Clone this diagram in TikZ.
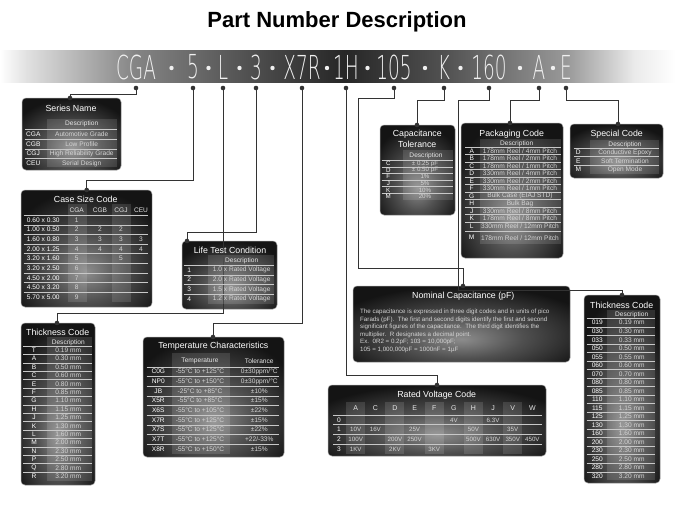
\documentclass[tikz,border=0pt]{standalone}
\usepackage{fontspec}
\usepackage{graphicx}
\setmainfont{Liberation Sans}
\newfontfamily\thinfont{DejaVu Sans ExtraLight}
\definecolor{pcenter}{HTML}{8C8C8C}
\definecolor{pmid}{HTML}{505050}
\definecolor{pedge}{HTML}{141414}
\definecolor{celltxt}{HTML}{D4D4D4}
\definecolor{linecol}{HTML}{C8C8C8}
\definecolor{conncol}{HTML}{333333}
\pgfdeclareradialshading{panelshade}{\pgfpoint{0bp}{-10bp}}{color(0bp)=(pcenter); color(14bp)=(pmid); color(32bp)=(pedge); color(100bp)=(pedge)}
\pgfdeclarehorizontalshading{bannershade}{100bp}{color(0bp)=(white); color(25bp)=(white); color(27bp)=(black!12); color(35bp)=(black!48); color(44bp)=(black!70); color(50.5bp)=(black!85); color(58bp)=(black!68); color(67bp)=(black!40); color(72bp)=(black!8); color(75bp)=(white); color(100bp)=(white)}
\begin{document}
\begin{tikzpicture}[x=1pt,y=-1pt,
  panel/.style={draw=black!40, line width=0.5pt, rounded corners=4pt, shading=panelshade, inner sep=0pt, outer sep=0pt},
  ttl/.style={text=white, font=\fontsize{8.8}{10}\selectfont, inner sep=0pt},
  hdr/.style={text=white!90!black, font=\fontsize{6.6}{7}\selectfont, inner sep=0pt},
  cell/.style={text=celltxt, font=\fontsize{6.6}{7}\selectfont, inner sep=0pt},
  smallcell/.style={text=celltxt, font=\fontsize{6.2}{7}\selectfont, inner sep=0pt},
  code/.style={text=white, font=\fontsize{6.6}{7}\selectfont, inner sep=0pt},
  sepl/.style={draw=linecol, line width=0.6pt},
  band/.style={fill=white, fill opacity=0.12},
  conn/.style={draw=conncol, line width=0.8pt},
  dotc/.style={fill=conncol},
  tok/.style={text=white!94!black, font=\thinfont\fontsize{33}{33}\selectfont, inner sep=0pt},
  bodytxt/.style={text=celltxt, font=\fontsize{6.2}{7.4}\selectfont, inner sep=0pt, anchor=west}]
\useasboundingbox (0,0) rectangle (675,506);
\fill[white] (0,0) rectangle (675,506);
% title
\node[font=\fontsize{22}{24}\selectfont\bfseries] (title) at (337,22) {Part Number Description};
% banner
\shade[shading=bannershade] (0,50) rectangle (675,82);
\foreach \t/\x/\n in {CGA/136/cga,5/193/five,L/223/ell,3/256/three,X7R/302/xsr,1H/346/oneh,105/394/ohf,K/444/kk,160/489/osz,A/539/aa,E/566/ee}{
  \node[tok] (t-\n) at (\x,67) {\scalebox{0.56}[1]{\t}};
  \coordinate (d-\n) at (\x,88);
}
\foreach \x in {171.5,208.5,239.5,272.5,327,367.5,425,460.5,520,553}{
  \fill[white!94!black] (\x,68) circle (2.2pt);
}
% ---------- panels ----------
\node[panel, minimum width=99pt, minimum height=72pt] (sn) at (71.5,134) {};
\node[panel, minimum width=131pt, minimum height=117pt] (cs) at (86.5,248.5) {};
\node[panel, minimum width=74pt, minimum height=162pt] (tl) at (58,404) {};
\node[panel, minimum width=95pt, minimum height=68pt] (lt) at (229.5,275) {};
\node[panel, minimum width=141pt, minimum height=120pt] (tc) at (213.5,397) {};
\node[panel, minimum width=75pt, minimum height=90pt] (ct) at (417.5,170) {};
\node[panel, minimum width=102pt, minimum height=135pt] (pk) at (512,190.5) {};
\node[panel, minimum width=93pt, minimum height=54pt] (sp) at (616.5,151) {};
\node[panel, minimum width=217pt, minimum height=76pt] (nc) at (461.5,324) {};
\node[panel, minimum width=218pt, minimum height=71pt] (rv) at (437,420.5) {};
\node[panel, minimum width=76pt, minimum height=188pt] (tr) at (622,389) {};
% connector end points
\coordinate (sn-in) at (70,98);
\coordinate (cs-in) at (86.7,190);
\coordinate (tl-in) at (57,323);
\coordinate (lt-in) at (187,241);
\coordinate (tc-in) at (213,337);
\coordinate (ct-in) at (417,125);
\coordinate (pk-in) at (510,123);
\coordinate (sp-in) at (618,124);
\coordinate (nc-in) at (463,286);
\coordinate (rv-in) at (437,385);
\coordinate (tr-in) at (622,295);
\coordinate (k105) at (358,268);
\coordinate (k160) at (458,290);
% connectors
\draw[conn] (d-cga) -- ++(0,6) -| (sn-in);
\draw[conn] (d-five) -- ++(0,92) -| (cs-in);
\draw[conn] (d-ell) -- ++(0,225) -| (tl-in);
\draw[conn] (d-three) -- ++(0,144) -| (lt-in);
\draw[conn] (d-xsr) -- ++(0,235) -| (tc-in);
\draw[conn] (d-oneh) -- ++(0,287) -| (rv-in);
\draw[conn] (d-ohf) -- ++(0,10) -| (k105) -| (nc-in);
\draw[conn] (d-kk) -- ++(0,12) -| (ct-in);
\draw[conn] (d-osz) -- ++(0,12) -| (k160) -| (tr-in);
\draw[conn] (d-aa) -- ++(0,12) -| (pk-in);
\draw[conn] (d-ee) -- ++(0,12) -| (sp-in);
\foreach \p in {d-cga,d-five,d-ell,d-three,d-xsr,d-oneh,d-ohf,d-kk,d-osz,d-aa,d-ee,sn-in,cs-in,tl-in,lt-in,tc-in,ct-in,pk-in,sp-in,nc-in,rv-in,tr-in}{
  \fill[dotc] (\p) circle (2.3pt);
}
% ---------- Series Name ----------
\fill[band] (47,119) rectangle (117,167);
\node[ttl] (sn-t) at (71,108.5) {Series Name};
\node[hdr] (sn-h) at (81.7,124) {Description};
\foreach \c/\d [count=\i] in {CGA/Automotive Grade,CGB/Low Profile,CGJ/High Reliability Grade,CEU/Serial Design}{
  \pgfmathsetmacro\yy{134.3+9.67*(\i-1)}
  \draw[sepl] (25,{\yy-4.8}) -- (117,{\yy-4.8});
  \node[code] (sn-c\i) at (33.3,\yy) {\c};
  \node[cell] (sn-d\i) at (81.7,\yy) {\d};
}
% ---------- Case Size Code ----------
\fill[band] (67.7,204) rectangle (86.7,302);
\fill[band] (111.7,204) rectangle (130.7,302);
\node[ttl] (cs-t) at (85.7,199.5) {Case Size Code};
\node[hdr] (cs-h1) at (76.7,210) {CGA};
\node[hdr] (cs-h2) at (100,210) {CGB};
\node[hdr] (cs-h3) at (121,210) {CGJ};
\node[hdr] (cs-h4) at (141,210) {CEU};
\foreach \s [count=\i] in {0.60 x 0.30,1.00 x 0.50,1.60 x 0.80,2.00 x 1.25,3.20 x 1.60,3.20 x 2.50,4.50 x 2.00,4.50 x 3.20,5.70 x 5.00}{
  \pgfmathsetmacro\yy{220+9.63*(\i-1)}
  \draw[sepl] (23.5,{\yy-4.8}) -- (148,{\yy-4.8});
  \node[code] (cs-s\i) at (43.3,\yy) {\s};
  \node[cell] (cs-a\i) at (76.7,\yy) {\i};
}
\foreach \r in {2,3,4}{
  \node[cell] (cs-b\r) at (100,{220+9.63*(\r-1)}) {\r};
}
\foreach \r in {2,3,4,5}{
  \node[cell] (cs-j\r) at (121,{220+9.63*(\r-1)}) {\r};
}
\foreach \r in {3,4}{
  \node[cell] (cs-u\r) at (141,{220+9.63*(\r-1)}) {\r};
}
% ---------- Thickness Code (left) ----------
\fill[band] (46.7,337) rectangle (92,481);
\node[ttl] (tl-t) at (57.7,332) {Thickness Code};
\node[hdr] (tl-h) at (68.3,342.3) {Description};
\foreach \c/\v [count=\i] in {T/0.19,A/0.30,B/0.50,C/0.60,E/0.80,F/0.85,G/1.10,H/1.15,J/1.25,K/1.30,L/1.60,M/2.00,N/2.30,P/2.50,Q/2.80,R/3.20}{
  \pgfmathsetmacro\yy{350.3+8.4*(\i-1)}
  \draw[sepl] (23,{\yy-4.2}) -- (92,{\yy-4.2});
  \node[code] (tl-c\i) at (34,\yy) {\c};
  \node[cell] (tl-v\i) at (68.3,\yy) {\v\ mm};
}
% ---------- Life Test Condition ----------
\fill[band] (208,255) rectangle (273.5,304);
\node[ttl] (lt-t) at (230,250) {Life Test Condition};
\node[hdr] (lt-h) at (241.7,260.7) {Description};
\foreach \d [count=\i] in {1.0,2.0,1.5,1.2}{
  \pgfmathsetmacro\yy{270+9.67*(\i-1)}
  \draw[sepl] (183.5,{\yy-4.8}) -- (273.5,{\yy-4.8});
  \node[code] (lt-c\i) at (189.3,\yy) {\i};
  \node[cell] (lt-d\i) at (241.7,\yy) {\d\ x Rated Voltage};
}
% ---------- Temperature Characteristics ----------
\fill[band] (171.7,353) rectangle (230,454);
\node[ttl] (tc-t) at (213.3,346.5) {Temperature Characteristics};
\node[hdr] (tc-h1) at (200,361) {Temperature};
\node[hdr] (tc-h2) at (259.3,361) {Tolerance};
\foreach \c [count=\i] in {C0G,NP0,JB,X5R,X6S,X7R,X7S,X7T,X8R}{
  \pgfmathsetmacro\yy{371.7+9.66*(\i-1)}
  \draw[sepl] (146.7,{\yy-4.8}) -- (279.3,{\yy-4.8});
  \node[code] (tc-c\i) at (158.3,\yy) {\c};
}
\foreach \t [count=\i] in {-55°C to +125°C,-55°C to +150°C,-25°C to +85°C,-55°C to +85°C,-55°C to +105°C,-55°C to +125°C,-55°C to +125°C,-55°C to +125°C,-55°C to +150°C}{
  \node[cell] (tc-m\i) at (200,{371.7+9.66*(\i-1)}) {\t};
}
\foreach \t [count=\i] in {0±30ppm/°C,0±30ppm/°C,±10\%,±15\%,±22\%,±15\%,±22\%,+22/-33\%,±15\%}{
  \node[cell] (tc-o\i) at (259.3,{371.7+9.66*(\i-1)}) {\t};
}
% ---------- Capacitance Tolerance ----------
\fill[band] (403,150) rectangle (453.3,200);
\node[ttl] (ct-t1) at (417.3,134) {Capacitance};
\node[ttl] (ct-t2) at (417.3,144) {Tolerance};
\node[hdr] (ct-h) at (426,155.7) {Description};
\foreach \c/\d [count=\i] in {C/± 0.25 pF,D/± 0.50 pF,F/1\%,J/5\%,K/10\%,M/20\%}{
  \pgfmathsetmacro\yy{163.5+6.6*(\i-1)}
  \draw[sepl] (381.7,{\yy-3.3}) -- (453.3,{\yy-3.3});
  \node[code,font=\fontsize{6.2}{7}\selectfont] (ct-c\i) at (388.3,\yy) {\c};
  \node[smallcell] (ct-d\i) at (425,\yy) {\d};
}
% ---------- Packaging Code ----------
\fill[band] (480,139) rectangle (561,244);
\node[ttl] (pk-t) at (511.7,134) {Packaging Code};
\node[hdr] (pk-h) at (516.7,143.3) {Description};
\foreach \c [count=\i] in {A,B,C,D,E,F,G,H,J,K,L}{
  \pgfmathsetmacro\yy{151+7.5*(\i-1)}
  \draw[sepl] (465,{\yy-3.75}) -- (561,{\yy-3.75});
  \node[code] (pk-c\i) at (471.7,\yy) {\c};
}
\foreach \d [count=\i] in {178mm Reel / 4mm Pitch,178mm Reel / 2mm Pitch,178mm Reel / 1mm Pitch,330mm Reel / 4mm Pitch,330mm Reel / 2mm Pitch,330mm Reel / 1mm Pitch,Bulk Case (EIAJ STD),Bulk Bag,330mm Reel / 8mm Pitch,178mm Reel / 8mm Pitch,330mm Reel / 12mm Pitch}{
  \node[cell] (pk-d\i) at (520,{151+7.5*(\i-1)}) {\d};
}
\draw[sepl] (465,231.5) -- (561,231.5);
\node[code] (pk-c12) at (471.7,237.7) {M};
\node[cell] (pk-d12) at (520,237.7) {178mm Reel / 12mm Pitch};
% ---------- Special Code ----------
\fill[band] (590,140) rectangle (659,174);
\node[ttl] (sp-t) at (616.7,134) {Special Code};
\node[hdr] (sp-h) at (625,145) {Description};
\foreach \c/\d [count=\i] in {D/Conductive Epoxy,E/Soft Termination,M/Open Mode}{
  \pgfmathsetmacro\yy{152.3+8.5*(\i-1)}
  \draw[sepl] (574,{\yy-4.25}) -- (659,{\yy-4.25});
  \node[code] (sp-c\i) at (578.3,\yy) {\c};
  \node[cell] (sp-d\i) at (625,\yy) {\d};
}
% ---------- Nominal Capacitance ----------
\node[ttl] (nc-t) at (463.3,296) {Nominal Capacitance (pF)};
\begin{scope}
\clip[rounded corners=4pt] (353,286) rectangle (570,362);
\node[bodytxt] (nc-l1) at (360,312) {The capacitance is expressed in three digit codes and in units of pico};
\node[bodytxt] (nc-l2) at (360,319.5) {Farads (pF).\ \ The first and second digits identify the first and second};
\node[bodytxt] (nc-l3) at (360,327) {significant figures of the capacitance.\ \ The third digit identifies the};
\node[bodytxt] (nc-l4) at (360,334.5) {multiplier.\ \ R designates a decimal point.};
\node[bodytxt] (nc-l5) at (360,342) {Ex.\ \ 0R2 = 0.2pF; 103 = 10,000pF;};
\node[bodytxt] (nc-l6) at (360,349.5) {105 = 1,000,000pF = 1000nF = 1µF};
\end{scope}
% ---------- Rated Voltage Code ----------
\foreach \k in {0,2,4,6,8}{
  \fill[band] ({355.7+19.63*\k-9.5},402) rectangle ({355.7+19.63*\k+9.5},454);
}
\node[ttl] (rv-t) at (436.7,395) {Rated Voltage Code};
\foreach \h [count=\i from 0] in {A,C,D,E,F,G,H,J,V,W}{
  \node[hdr,font=\fontsize{7}{8}\selectfont] (rv-h\i) at ({355.7+19.63*\i},408.3) {\h};
}
\foreach \r in {0,1,2,3}{
  \draw[sepl] (333,{415+9.7*\r}) -- (542,{415+9.7*\r});
  \node[code] (rv-r\r) at (339,{420+9.67*\r}) {\r};
}
\foreach \k/\r/\v [count=\i] in {5/0/4V,7/0/6.3V,0/1/10V,1/1/16V,3/1/25V,6/1/50V,8/1/35V,0/2/100V,2/2/200V,3/2/250V,6/2/500V,7/2/630V,8/2/350V,9/2/450V,0/3/1KV,2/3/2KV,4/3/3KV}{
  \node[smallcell] (rv-v\i) at ({355.7+19.63*\k},{420+9.67*\r}) {\v};
}
% ---------- Thickness Code (right) ----------
\fill[band] (606.7,310) rectangle (655,480);
\node[ttl] (tr-t) at (621.7,305) {Thickness Code};
\node[hdr] (tr-h) at (631.7,315) {Description};
\foreach \c/\v [count=\i] in {019/0.19,030/0.30,033/0.33,050/0.50,055/0.55,060/0.60,070/0.70,080/0.80,085/0.85,110/1.10,115/1.15,125/1.25,130/1.30,160/1.60,200/2.00,230/2.30,250/2.50,280/2.80,320/3.20}{
  \pgfmathsetmacro\yy{322.7+8.52*(\i-1)}
  \draw[sepl] (586.7,{\yy-4.26}) -- (655,{\yy-4.26});
  \node[code] (tr-c\i) at (597.3,\yy) {\c};
  \node[cell] (tr-v\i) at (631.7,\yy) {\v\ mm};
}
\end{tikzpicture}
\end{document}
